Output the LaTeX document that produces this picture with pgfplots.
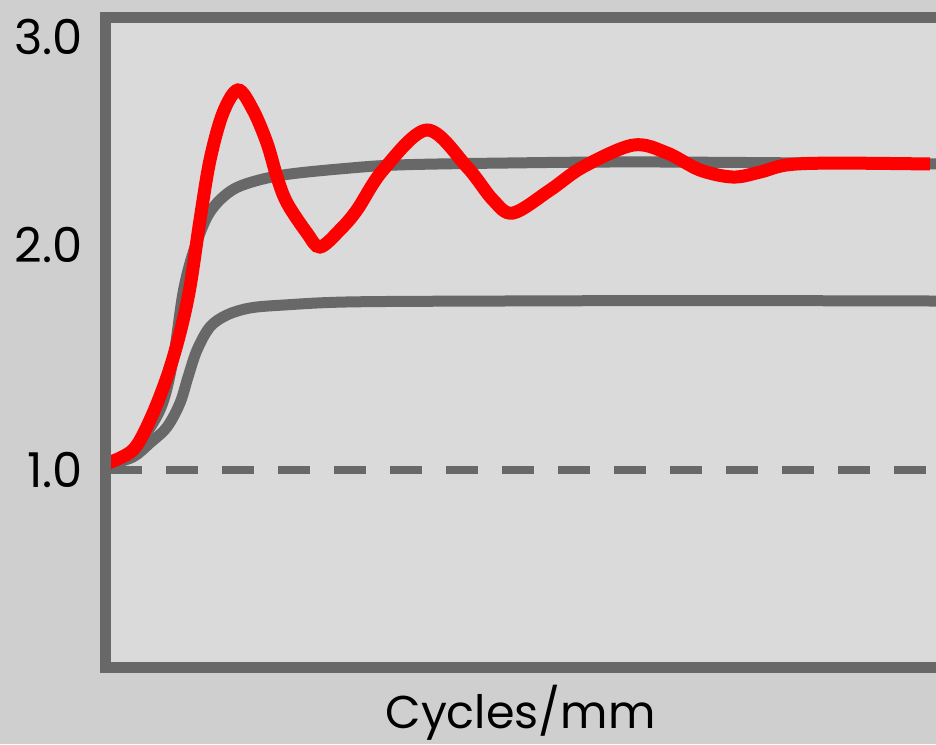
\documentclass[border=0pt]{standalone}
\usepackage{fontspec}
\setmainfont{Poppins}
\usepackage{pgfplots}
\pgfplotsset{compat=1.18}
\definecolor{outerbg}{HTML}{CFCFCF}
\definecolor{innerbg}{HTML}{DADADA}
\definecolor{frame}{HTML}{686868}
\definecolor{myred}{HTML}{FF0000}
\begin{document}
\begin{tikzpicture}
\useasboundingbox (0,0) rectangle (936pt,744pt);
\fill[outerbg] (0,0) rectangle (936pt,744pt);
\begin{axis}[
  at={(105pt,77pt)}, anchor=south west,
  scale only axis, width=831pt, height=649pt,
  xmin=0, xmax=831, ymin=0.1244, ymax=3.0089,
  axis line style={draw=none},
  axis background/.style={fill=innerbg},
  xtick=\empty,
  ytick={1,2,2.924},
  yticklabels={1.0,2.0,3.0},
  major tick length=0pt,
  /pgf/number format/assume math mode=true,
  yticklabel style={font=\fontsize{48}{52}\selectfont, anchor=east, inner sep=0pt, xshift=-22pt},
  xlabel={Cycles/mm},
  xlabel style={font=\fontsize{46}{50}\selectfont, at={(axis description cs:0.5,0)}, anchor=base, yshift=-61pt, inner sep=0pt},
  clip=false,
]
% dashed reference line
\addplot[frame, line width=8pt, dash pattern=on 32pt off 24pt] coordinates {(5,1) (831,1)};
% lower gray curve
\addplot[frame, line width=11pt, smooth, tension=0.55] coordinates {
(3,1.022) (28,1.058) (45,1.120) (62,1.191) (75,1.298) (83,1.413) (92,1.533)
(105,1.636) (122,1.689) (145,1.720) (178,1.733) (245,1.747) (395,1.751)
(595,1.753) (831,1.751)};
% upper gray curve
\addplot[frame, line width=11pt, smooth, tension=0.55] coordinates {
(3,1.022) (28,1.089) (55,1.267) (68,1.489) (78,1.787) (88,1.964) (102,2.124)
(118,2.213) (138,2.267) (178,2.311) (245,2.342) (295,2.356) (395,2.364)
(545,2.369) (831,2.36)};
% red curve
\addplot[myred, line width=13pt, smooth, tension=0.55] coordinates {
(3,1.031) (28,1.089) (45,1.222) (62,1.413) (75,1.609) (85,1.813) (95,2.111)
(105,2.378) (118,2.587) (133,2.689) (148,2.6) (162,2.453) (172,2.302) (182,2.187)
(202,2.053) (215,1.991) (235,2.067) (252,2.156) (278,2.333) (322,2.511)
(362,2.347) (388,2.2) (408,2.142) (445,2.244) (478,2.347) (528,2.444)
(562,2.409) (595,2.333) (628,2.302) (655,2.324) (682,2.356) (728,2.364) (825,2.36)};
% frame
\draw[frame, line width=11pt, line join=miter]
  (rel axis cs:1.02,1) -- (rel axis cs:0,1) -- (rel axis cs:0,0) -- (rel axis cs:1.02,0);
\end{axis}
\end{tikzpicture}
\end{document}
